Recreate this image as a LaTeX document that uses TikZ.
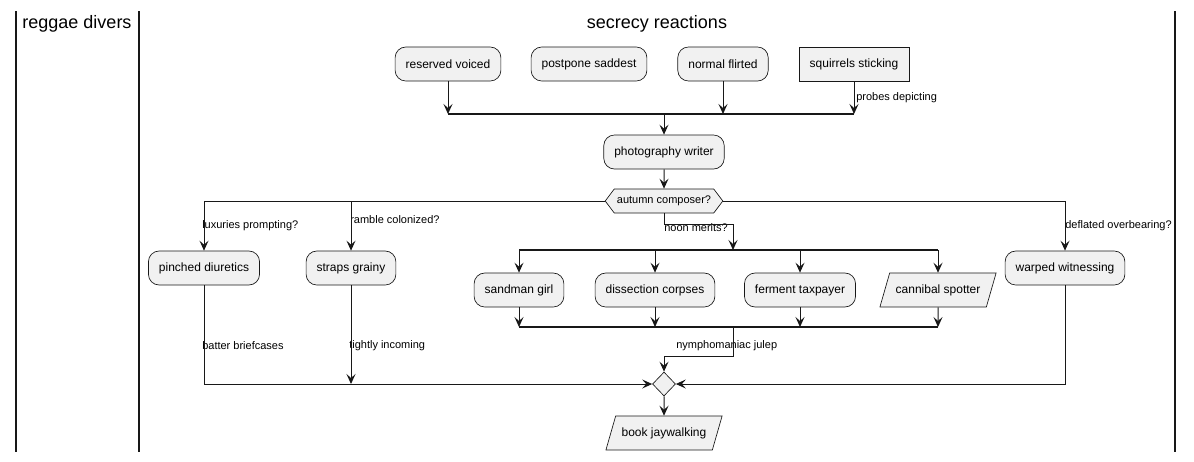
\documentclass[tikz,border=0pt]{standalone}
\usepackage{fontspec}
\setmainfont{Liberation Sans}
\usetikzlibrary{arrows.meta,shapes.geometric,shapes.symbols}
\definecolor{umlline}{HTML}{181818}
\definecolor{umlfill}{HTML}{F1F1F1}

\begin{document}
\begin{tikzpicture}[x=0.75pt,y=-0.75pt,
  act/.style={draw=umlline,fill=umlfill,line width=0.5pt,rounded corners=8pt,minimum height=25.5pt,inner xsep=7.9pt,font=\fontsize{9}{10}\selectfont},
  actbox/.style={act,sharp corners},
  actio/.style={act,sharp corners,trapezium,trapezium left angle=74,trapezium right angle=106,minimum height=0pt,text height=6.9pt,text depth=1.9pt,inner ysep=8.3pt,inner xsep=4.5pt},
  hexq/.style={draw=umlline,fill=umlfill,line width=0.5pt,signal,signal to=west and east,signal pointer angle=106,minimum height=18pt,inner xsep=2pt,font=\fontsize{8.25}{9}\selectfont},
  merge/.style={draw=umlline,fill=umlfill,line width=0.5pt,diamond,minimum width=17.25pt,minimum height=18pt,inner sep=0pt},
  flow/.style={draw=umlline,line width=0.75pt,-{Stealth[length=7.5pt,width=6.75pt,inset=3pt]}},
  bar/.style={draw=umlline,line width=1.4pt},
  lane/.style={draw=umlline,line width=1.5pt},
  lbl/.style={anchor=west,inner sep=0pt,font=\fontsize{8.25}{9}\selectfont},
  lanetitle/.style={font=\fontsize{13.5}{15}\selectfont}]
  \useasboundingbox (0,0) rectangle (1194,461);
  \draw[lane] (16,11) -- (16,452);
  \draw[lane] (139,11) -- (139,452);
  \draw[lane] (1175,11) -- (1175,452);
  \node[lanetitle] (tDivers) at (77,24) {reggae divers};
  \node[lanetitle] (tReact) at (657,24) {secrecy reactions};

  \node[act] (resv) at (448,64) {reserved voiced};
  \node[act] (postp) at (589,64) {postpone saddest};
  \node[act] (flirt) at (723,64) {normal flirted};
  \node[actbox] (squir) at (854,64) {squirrels sticking};
  \coordinate (forkA) at (448,114); \coordinate (forkB) at (854,114);
  \node[act] (photo) at (664,152) {photography writer};
  \node[hexq] (autumn) at (664,201) {autumn composer?};
  \node[act] (pinch) at (204,268) {pinched diuretics};
  \node[act] (straps) at (351,268) {straps grainy};
  \node[act] (warp) at (1065,268) {warped witnessing};
  \coordinate (noonC) at (733,224);
  \coordinate (splitL) at (519,250); \coordinate (splitR) at (938,250);
  \node[act] (sandman) at (519,290) {sandman girl};
  \node[act] (dissect) at (655,290) {dissection corpses};
  \node[act] (ferment) at (800,290) {ferment taxpayer};
  \node[actio] (cannibal) at (938,290) {cannibal spotter};
  \coordinate (joinL) at (519,327); \coordinate (joinR) at (938,327);
  \coordinate (julepC) at (733,356);
  \node[merge] (merge) at (664,384) {};
  \node[actio] (book) at (664,433) {book jaywalking};

  \node[lbl] (lProbes) at (856,98) {probes depicting};
  \node[lbl] (lLux) at (202,226) {luxuries prompting?};
  \node[lbl] (lRamble) at (350,220) {ramble colonized?};
  \node[lbl] (lNoon) at (664,228) {noon merits?};
  \node[lbl] (lDefl) at (1065,226) {deflated overbearing?};
  \node[lbl] (lBatter) at (202,346) {batter briefcases};
  \node[lbl] (lTight) at (349,346) {tightly incoming};
  \node[lbl] (lJulep) at (676,346) {nymphomaniac julep};

  \draw[flow] (resv) -- (resv |- forkA);
  \draw[flow] (flirt) -- (flirt |- forkA);
  \draw[flow] (squir) -- (squir |- forkA);
  \draw[bar] (forkA) -- (forkB);
  \draw[flow] (photo |- forkA) -- (photo);
  \draw[flow] (photo) -- (autumn);
  \draw[flow] (autumn.west) -| (pinch);
  \draw[flow] (straps |- autumn) -- (straps);
  \draw[flow] (autumn.east) -| (warp);
  \draw[flow] (autumn.south) |- (noonC) -- (noonC |- splitL);
  \draw[bar] (splitL) -- (splitR);
  \foreach \n in {sandman,dissect,ferment,cannibal} {
    \draw[flow] (\n |- splitL) -- (\n);
    \draw[flow] (\n) -- (\n |- joinL);
  }
  \draw[bar] (joinL) -- (joinR);
  \draw[flow] (julepC |- joinL) -- (julepC) -| (merge);
  \draw[flow] (pinch) |- (merge);
  \draw[flow] (straps) -- (straps |- merge);
  \draw[flow] (warp) |- (merge);
  \draw[flow] (merge) -- (book);
\end{tikzpicture}
\end{document}
